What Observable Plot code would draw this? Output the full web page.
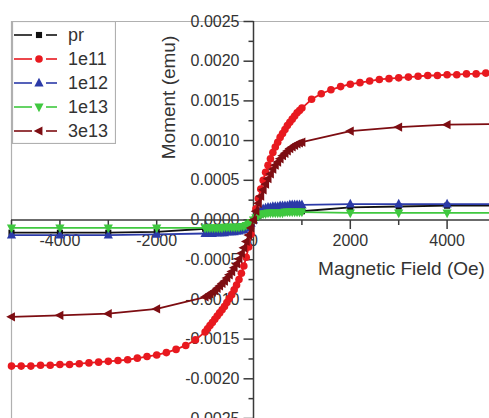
<!DOCTYPE html>
<html><head><meta charset="utf-8">
<script src="https://cdn.jsdelivr.net/npm/d3@7"></script>
<script src="https://cdn.jsdelivr.net/npm/@observablehq/plot@0.6"></script>
<style>
body{margin:0;background:#fff;font-family:"Liberation Sans",Arial,sans-serif}
#wrap{position:relative;width:489px;height:418px;overflow:hidden}
#legend{position:absolute;left:12px;top:21px}
</style>
</head><body><div id="wrap"></div>
<script>
// ---------- data ----------
const seriesNames = ["pr", "1e11", "1e12", "1e13", "3e13"];

const fieldDense = [-1000,-950,-900,-850,-800,-750,-700,-650,-600,-550,-500,-450,-400,-350,-300,-250,-200,-150,-100,-50,0,50,100,150,200,250,300,350,400,450,500,550,600,650,700,750,800,850,900,950,1000];
const fieldOuterNeg = [-5000,-4000,-3000,-2000];
const fieldOuterPos = [2000,3000,4000,5000];
const fieldRedNeg = [-5000,-4800,-4600,-4400,-4200,-4000,-3800,-3600,-3400,-3200,-3000,-2800,-2600,-2400,-2200,-2000,-1800,-1600,-1400,-1200];
const fieldRedPos = [1200,1400,1600,1800,2000,2200,2400,2600,2800,3000,3200,3400,3600,3800,4000,4200,4400,4600,4800,5000];

const momentPr = [-0.00016,-0.00016,-0.00016,-0.00015,
  -0.00011,-0.00011,-0.00011,-0.00011,-0.00011,-0.0001,-0.0001,-0.0001,-0.0001,-0.0001,-0.0001,-0.0001,-0.0001,-0.00009,-0.00009,-0.00009,-0.00008,-0.00007,-0.00005,-0.00003,
  0,
  0.00003,0.00005,0.00007,0.00008,0.00009,0.00009,0.0001,0.0001,0.0001,0.0001,0.0001,0.0001,0.0001,0.0001,0.00011,0.00011,0.00011,0.00011,0.00011,0.00011,
  0.00016,0.00017,0.00018,0.00018];

const moment1e11 = [-0.00184,-0.00184,-0.00184,-0.00183,-0.00183,-0.00182,-0.00182,-0.00181,-0.0018,-0.00179,-0.00178,-0.00177,-0.00176,-0.00174,-0.00172,-0.0017,-0.00167,-0.00163,-0.00158,-0.00151,
  -0.00141,-0.00137,-0.00133,-0.00129,-0.00125,-0.00121,-0.00117,-0.00113,-0.00109,-0.00104,-0.00099,-0.00094,-0.00088,-0.00082,-0.00075,-0.00067,-0.00058,-0.00047,-0.00034,-0.00018,
  0,
  0.00014,0.00027,0.00039,0.0005,0.0006,0.00069,0.00077,0.00085,0.00092,0.00098,0.00104,0.00109,0.00114,0.00119,0.00123,0.00127,0.00131,0.00135,0.00138,0.00141,
  0.00152,0.00159,0.00164,0.00168,0.00171,0.00173,0.00175,0.00177,0.00178,0.00179,0.0018,0.00181,0.00182,0.00182,0.00183,0.00183,0.00184,0.00184,0.00185,0.00185];

const moment1e12 = [-0.00019,-0.00019,-0.00019,-0.00018,
  -0.00017,-0.00017,-0.00017,-0.00017,-0.00016,-0.00016,-0.00016,-0.00016,-0.00016,-0.00015,-0.00015,-0.00015,-0.00015,-0.00014,-0.00014,-0.00013,-0.00012,-0.0001,-0.00007,-0.00004,
  0,
  0.00005,0.00009,0.00012,0.00014,0.00015,0.00016,0.00016,0.00017,0.00017,0.00017,0.00018,0.00018,0.00018,0.00018,0.00019,0.00019,0.00019,0.00019,0.00019,0.00019,
  0.0002,0.0002,0.0002,0.0002];

const moment1e13 = [-0.0001,-0.0001,-0.0001,-0.0001,
  -0.0001,-0.0001,-0.0001,-0.0001,-0.0001,-0.0001,-0.0001,-0.0001,-0.00009,-0.00009,-0.00009,-0.00009,-0.00009,-0.00009,-0.00009,-0.00008,-0.00008,-0.00007,-0.00005,-0.00003,
  0,
  0.00003,0.00005,0.00007,0.00008,0.00008,0.00009,0.00009,0.00009,0.00009,0.00009,0.00009,0.00009,0.0001,0.0001,0.0001,0.0001,0.0001,0.0001,0.0001,0.0001,
  0.00009,0.00009,0.00009,0.00009];

const moment3e13 = [-0.00122,-0.0012,-0.00118,-0.00112,
  -0.00097,-0.00095,-0.00093,-0.00091,-0.00089,-0.00086,-0.00083,-0.0008,-0.00077,-0.00073,-0.00069,-0.00065,-0.0006,-0.00055,-0.00049,-0.00042,-0.00035,-0.00027,-0.00019,-0.0001,
  0,
  0.00011,0.00021,0.0003,0.00038,0.00045,0.00052,0.00058,0.00064,0.00069,0.00073,0.00077,0.00081,0.00084,0.00087,0.0009,0.00092,0.00094,0.00096,0.00097,0.00098,
  0.00112,0.00117,0.0012,0.00121];

const yMajor = [-0.0025,-0.002,-0.0015,-0.001,-0.0005,0,0.0005,0.001,0.0015,0.002,0.0025];
const yMinor = [-0.00225,-0.00175,-0.00125,-0.00075,-0.00025,0.00025,0.00075,0.00125,0.00175,0.00225];
const yTickLabels = ["-0.0025","-0.0020","-0.0015","-0.0010","-0.0005","0.0000","0.0005","0.0010","0.0015","0.0020","0.0025"];
const xMajor = [-4000,-2000,0,2000,4000];
const xMinor = [-5000,-3000,-1000,1000,3000,5000];
const xTickLabels = ["-4000","-2000","0","2000","4000"];

// ---------- symbols ----------
const rOf = s => Math.sqrt(s / Math.PI);
const triUp = {draw(c, s){const r=rOf(s); c.moveTo(0,-r*1.15); c.lineTo(r,r*0.75); c.lineTo(-r,r*0.75); c.closePath();}};
const triDown = {draw(c, s){const r=rOf(s); c.moveTo(0,r*1.15); c.lineTo(r,-r*0.75); c.lineTo(-r,-r*0.75); c.closePath();}};
const triLeft = {draw(c, s){const r=rOf(s); c.moveTo(-r*1.15,0); c.lineTo(r*0.75,-r); c.lineTo(r*0.75,r); c.closePath();}};
const sq = {draw(c, s){const r=rOf(s)*0.85; c.rect(-r,-r,2*r,2*r);}};
const circ = {draw(c, s){const r=rOf(s); c.moveTo(r,0); c.arc(0,0,r,0,2*Math.PI);}};
const tickLeft = {draw(c, s){const r=rOf(s); c.moveTo(-r,0); c.lineTo(0,0);}};
const tickDown = {draw(c, s){const r=rOf(s); c.moveTo(0,0); c.lineTo(0,r);}};

const styles = [
  {name: "pr",   color: "#111111", symbol: sq,      r: 3.6, field: [...fieldOuterNeg, ...fieldDense, ...fieldOuterPos], moment: momentPr},
  {name: "1e11", color: "#e8191f", symbol: circ,    r: 3.8, field: [...fieldRedNeg, ...fieldDense, ...fieldRedPos], moment: moment1e11},
  {name: "1e12", color: "#2b3aa8", symbol: triUp,   r: 4.6, field: [...fieldOuterNeg, ...fieldDense, ...fieldOuterPos], moment: moment1e12},
  {name: "1e13", color: "#3fc83f", symbol: triDown, r: 4.6, field: [...fieldOuterNeg, ...fieldDense, ...fieldOuterPos], moment: moment1e13},
  {name: "3e13", color: "#7d0d12", symbol: triLeft, r: 4.6, field: [...fieldOuterNeg, ...fieldDense, ...fieldOuterPos], moment: moment3e13}
];

const dataMarks = [];
for (const s of styles) {
  const rows = s.field.map((f, i) => ({field: f, moment: s.moment[i], series: s.name}));
  dataMarks.push(Plot.line(rows, {x: "field", y: "moment", stroke: s.color, strokeWidth: 1.8}));
  dataMarks.push(Plot.dot(rows, {x: "field", y: "moment", symbol: s.symbol, r: s.r, fill: s.color, stroke: "none"}));
}

const axisColor = "#3a3a3a";
const textColor = "#333";

const chart = Plot.plot({
  width: 489, height: 418,
  marginLeft: 11, marginTop: 21, marginRight: 0, marginBottom: 0,
  x: {domain: [-5000, 5000], range: [11, 495], axis: null},
  y: {domain: [-0.0025, 0.0025], range: [418, 21], axis: null},
  style: {fontFamily: '"Liberation Sans", Arial, sans-serif', background: "white", overflow: "hidden"},
  marks: [
    Plot.ruleY([0.0025], {stroke: "#b0b0b0", strokeWidth: 1.2}),
    Plot.ruleX([-5000], {stroke: "#b0b0b0", strokeWidth: 1.2}),
    Plot.text(yMajor, {x: 0, y: d => d, text: (d, i) => yTickLabels[i], textAnchor: "end", dx: -14, fontSize: 16, fill: textColor}),
    Plot.text(xMajor, {x: d => d, y: 0, text: (d, i) => xTickLabels[i], dy: 21, fontSize: 16, fill: textColor}),
    Plot.text(["Moment (emu)"], {frameAnchor: "top-left", dx: 157, dy: 76, rotate: -90, textAnchor: "middle", lineAnchor: "middle", fontSize: 19, fill: textColor}),
    Plot.text(["Magnetic Field (Oe)"], {frameAnchor: "top-left", dx: 390, dy: 247, textAnchor: "middle", lineAnchor: "middle", fontSize: 19, fill: textColor}),
    Plot.ruleY([0], {stroke: axisColor, strokeWidth: 1.5}),
    Plot.ruleX([0], {stroke: axisColor, strokeWidth: 1.5}),
    Plot.dot(yMajor, {x: 0, y: d => d, symbol: tickLeft, r: 10, stroke: axisColor, strokeWidth: 1.5, fill: "none"}),
    Plot.dot(yMinor, {x: 0, y: d => d, symbol: tickLeft, r: 5, stroke: axisColor, strokeWidth: 1.5, fill: "none"}),
    Plot.dot(xMajor, {x: d => d, y: 0, symbol: tickDown, r: 9, stroke: axisColor, strokeWidth: 1.5, fill: "none"}),
    Plot.dot(xMinor, {x: d => d, y: 0, symbol: tickDown, r: 5, stroke: axisColor, strokeWidth: 1.5, fill: "none"}),
    ...dataMarks
  ]
});

const wrap = document.getElementById("wrap");
wrap.appendChild(chart);

// ---------- legend ----------
const lg = d3.select(wrap).append("svg").attr("id", "legend").attr("width", 104).attr("height", 123);
lg.append("rect").attr("x", 0.5).attr("y", 0.5).attr("width", 103).attr("height", 122).attr("fill", "white").attr("stroke", "#b0b0b0").attr("stroke-width", 1.2);
styles.forEach((s, i) => {
  const cy = 14 + i * 24;
  const g = lg.append("g");
  g.append("line").attr("x1", 2).attr("x2", 20).attr("y1", cy).attr("y2", cy).attr("stroke", s.color).attr("stroke-width", 1.6);
  g.append("line").attr("x1", 34).attr("x2", 45).attr("y1", cy).attr("y2", cy).attr("stroke", s.color).attr("stroke-width", 1.6);
  const p = d3.path();
  s.symbol.draw(p, s.r * s.r * Math.PI);
  g.append("path").attr("d", p.toString()).attr("transform", `translate(27,${cy})`).attr("fill", s.color);
  g.append("text").attr("x", 56).attr("y", cy).attr("dy", "0.36em").attr("font-size", 18).attr("fill", textColor)
    .attr("font-family", '"Liberation Sans", Arial, sans-serif').text(s.name);
});
</script>
</body></html>
